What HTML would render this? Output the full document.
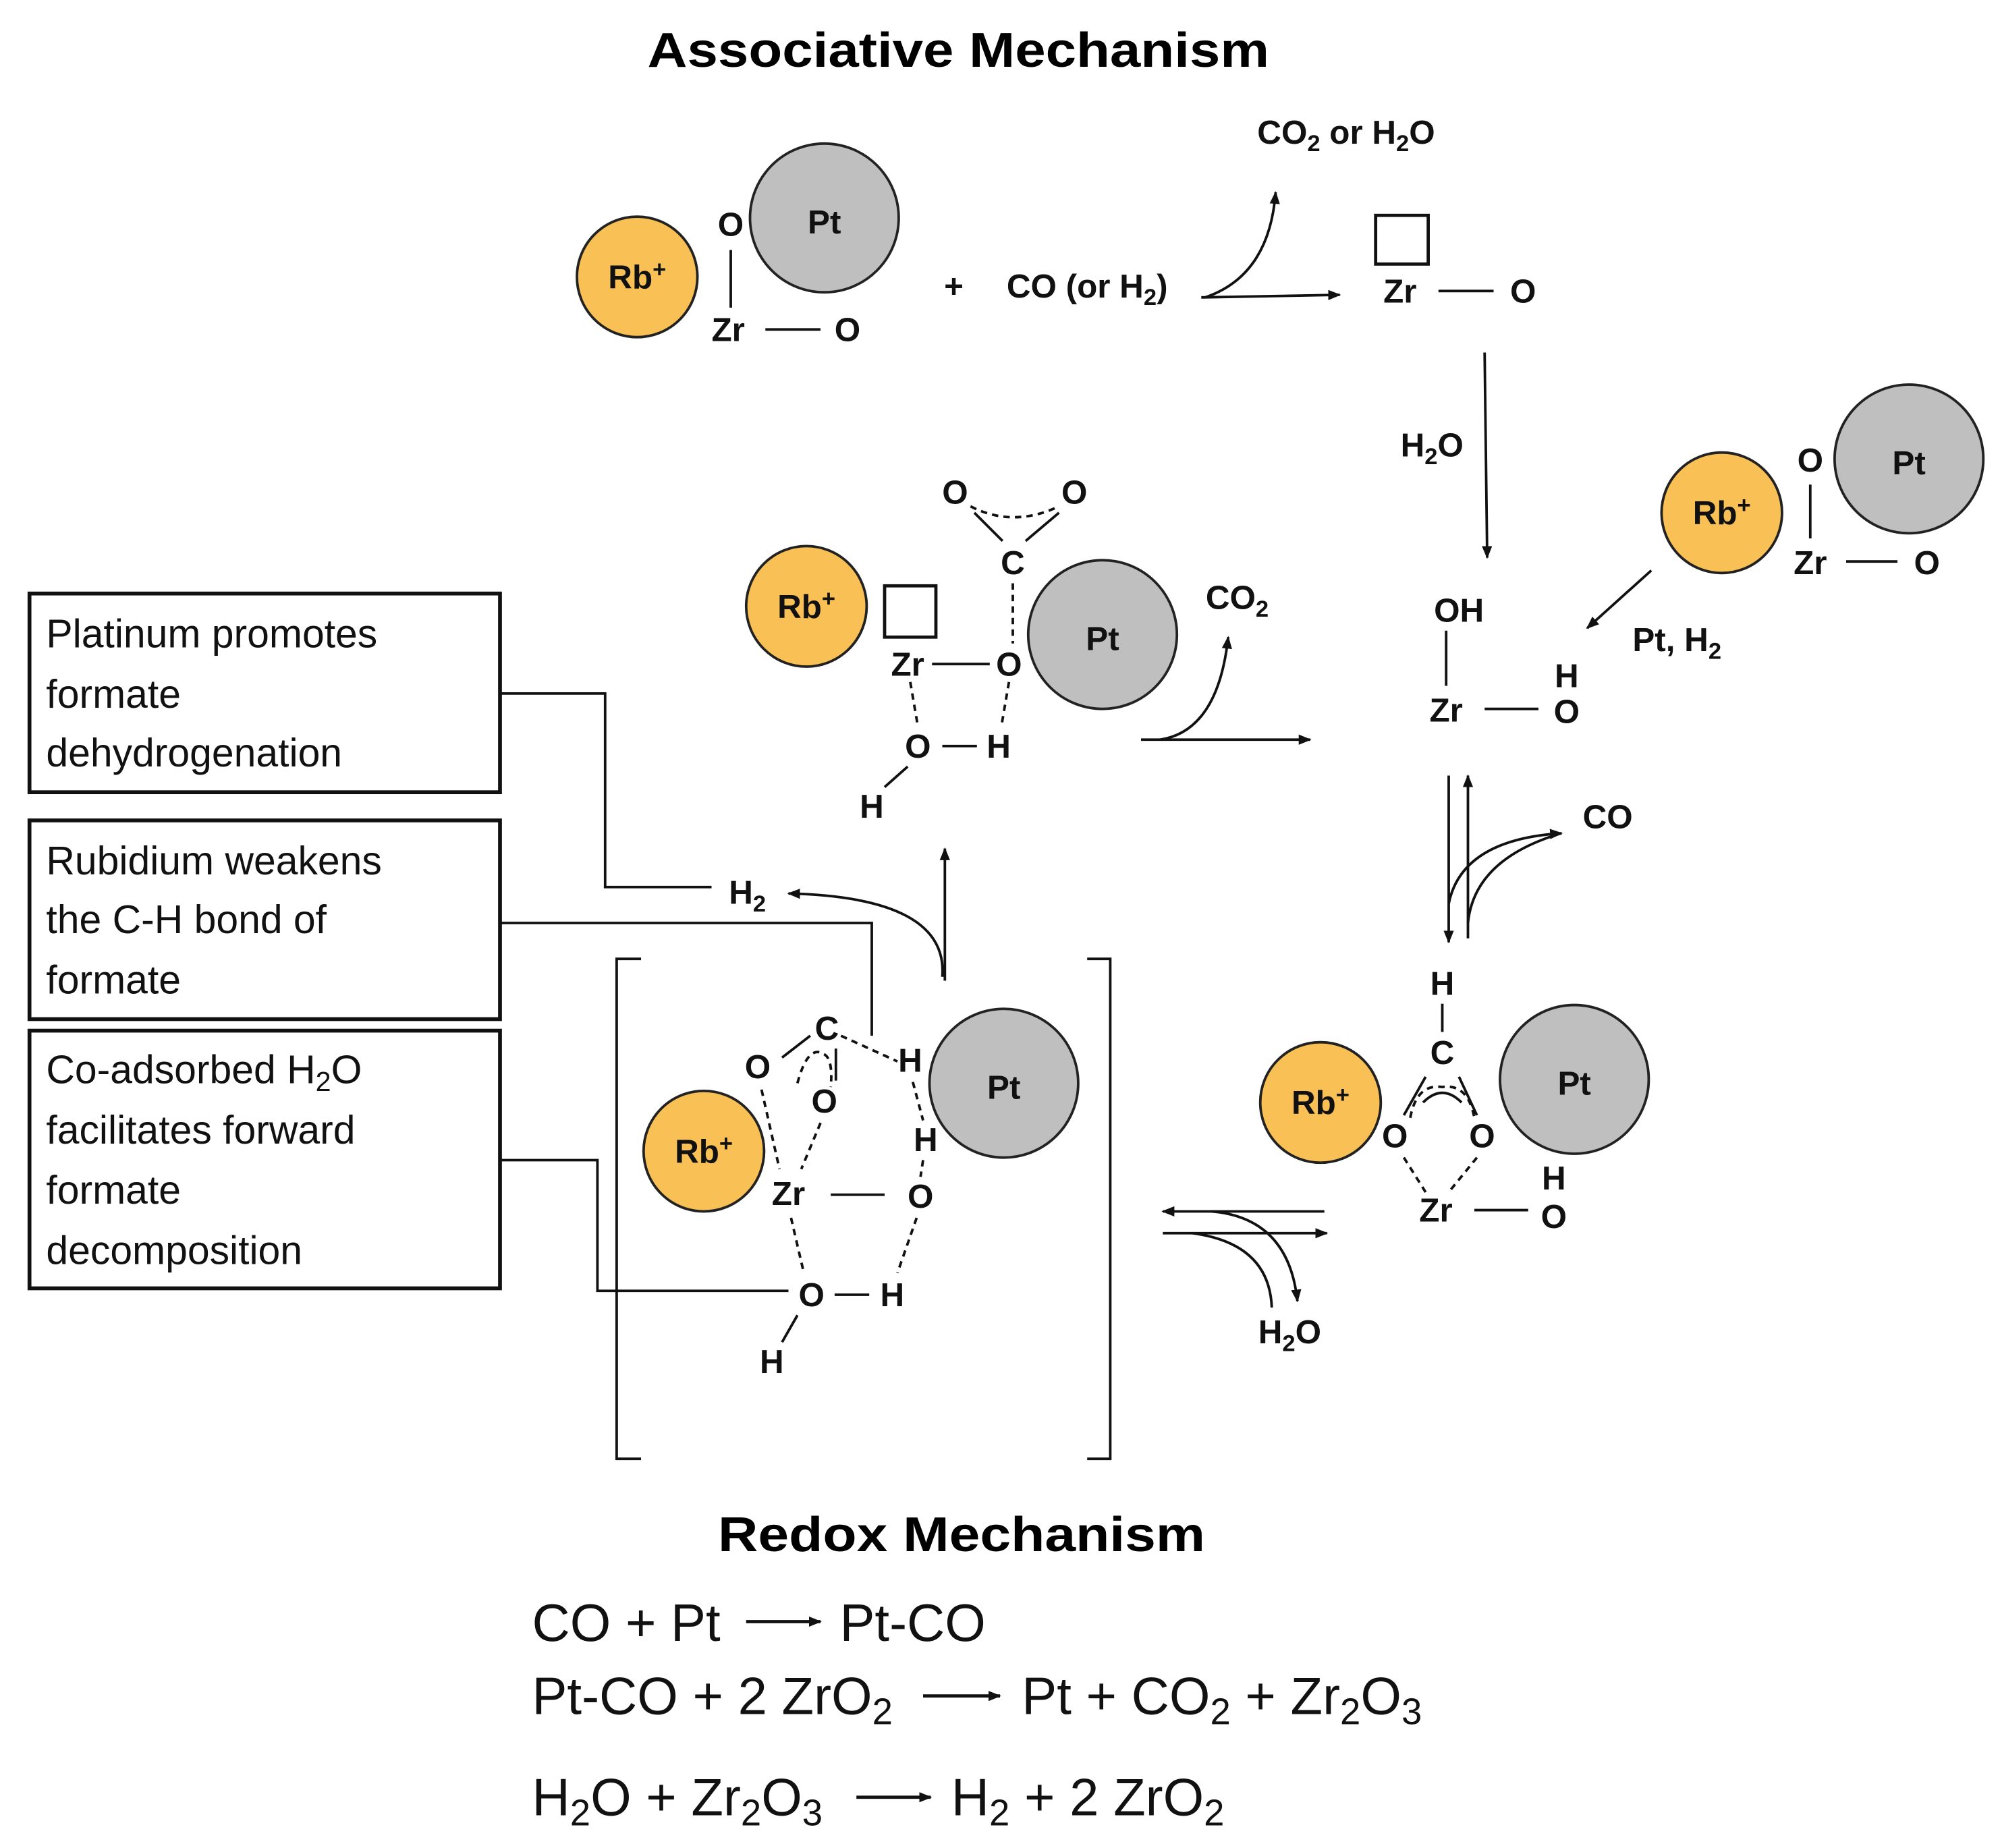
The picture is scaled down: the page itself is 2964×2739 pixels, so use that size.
<!DOCTYPE html>
<html><head><meta charset="utf-8"><style>
html,body{margin:0;padding:0;background:#fff}
svg{display:block}
.b{font-family:"Liberation Sans",sans-serif;font-weight:bold;font-size:26px;fill:#111}
.t{font-family:"Liberation Sans",sans-serif;font-weight:bold;font-size:38px;fill:#000}
.r{font-family:"Liberation Sans",sans-serif;font-size:31px;fill:#111}
.e{font-family:"Liberation Sans",sans-serif;font-size:41px;fill:#111}
.sub{font-size:70%}
</style></head><body>
<svg width="2964" height="2739" viewBox="0 0 1560 1441.6" preserveAspectRatio="none" xmlns="http://www.w3.org/2000/svg">
<defs><marker id="a" markerWidth="10" markerHeight="8" refX="9" refY="4" orient="auto" markerUnits="userSpaceOnUse"><path d="M0,0 L10,4 L0,8 z" fill="#111"/></marker></defs>
<text class="t" x="505" y="52" textLength="485" lengthAdjust="spacingAndGlyphs">Associative Mechanism</text>

<g stroke="#222" stroke-width="2">
<circle cx="497" cy="216" r="47" fill="#F8C055"/>
<circle cx="643" cy="170" r="58" fill="#BFBFBF"/>
<circle cx="1343" cy="400" r="47" fill="#F8C055"/>
<circle cx="1489" cy="358" r="58" fill="#BFBFBF"/>
<circle cx="629" cy="473" r="47" fill="#F8C055"/>
<circle cx="860" cy="495" r="58" fill="#BFBFBF"/>
<circle cx="1030" cy="860" r="47" fill="#F8C055"/>
<circle cx="1228" cy="842" r="58" fill="#BFBFBF"/>
<circle cx="549" cy="898" r="47" fill="#F8C055"/>
<circle cx="783" cy="845" r="58" fill="#BFBFBF"/>
</g>
<g class="b" text-anchor="middle">
<text x="497" y="225">Rb<tspan class="sub" dy="-9">+</tspan></text>
<text x="643" y="182">Pt</text>
<text x="570" y="184">O</text>
<text x="568" y="266">Zr</text>
<text x="661" y="266">O</text>
<text x="744" y="232">+</text>
<text x="848" y="232">CO (or H<tspan class="sub" dy="6">2</tspan><tspan dy="-6">)</tspan></text>
<text x="1050" y="112">CO<tspan class="sub" dy="6">2</tspan><tspan dy="-6"> or H</tspan><tspan class="sub" dy="6">2</tspan><tspan dy="-6">O</tspan></text>
<text x="1092" y="236">Zr</text>
<text x="1188" y="236">O</text>
<text x="1117" y="356">H<tspan class="sub" dy="6">2</tspan><tspan dy="-6">O</tspan></text>
<text x="1343" y="409">Rb<tspan class="sub" dy="-9">+</tspan></text>
<text x="1489" y="370">Pt</text>
<text x="1412" y="368">O</text>
<text x="1412" y="448">Zr</text>
<text x="1503" y="448">O</text>
<text x="1308" y="508">Pt, H<tspan class="sub" dy="6">2</tspan></text>
<text x="1138" y="485">OH</text>
<text x="1128" y="563">Zr</text>
<text x="1222" y="536">H</text>
<text x="1222" y="564">O</text>
<text x="1254" y="646">CO</text>
<text x="1125" y="776">H</text>
<text x="1125" y="830">C</text>
<text x="1030" y="869">Rb<tspan class="sub" dy="-9">+</tspan></text>
<text x="1228" y="854">Pt</text>
<text x="1088" y="895">O</text>
<text x="1156" y="895">O</text>
<text x="1120" y="953">Zr</text>
<text x="1212" y="928">H</text>
<text x="1212" y="958">O</text>
<text x="1006" y="1048">H<tspan class="sub" dy="6">2</tspan><tspan dy="-6">O</tspan></text>
<text x="745" y="393">O</text>
<text x="838" y="393">O</text>
<text x="790" y="448">C</text>
<text x="629" y="482">Rb<tspan class="sub" dy="-9">+</tspan></text>
<text x="860" y="507">Pt</text>
<text x="708" y="527">Zr</text>
<text x="787" y="527">O</text>
<text x="716" y="591">O</text>
<text x="779" y="591">H</text>
<text x="680" y="638">H</text>
<text x="965" y="475">CO<tspan class="sub" dy="6">2</tspan></text>
<text x="583" y="705">H<tspan class="sub" dy="6">2</tspan></text>
<text x="645" y="811">C</text>
<text x="591" y="841">O</text>
<text x="643" y="868">O</text>
<text x="549" y="907">Rb<tspan class="sub" dy="-9">+</tspan></text>
<text x="783" y="857">Pt</text>
<text x="710" y="836">H</text>
<text x="722" y="898">H</text>
<text x="615" y="940">Zr</text>
<text x="718" y="942">O</text>
<text x="633" y="1019">O</text>
<text x="696" y="1019">H</text>
<text x="602" y="1071">H</text>
</g>

<g stroke="#111" stroke-width="2" fill="none">
<line x1="570" y1="195" x2="570" y2="240"/>
<line x1="597" y1="257" x2="640" y2="257"/>
<line x1="937" y1="232" x2="1045" y2="230" marker-end="url(#a)"/>
<path d="M940,232 Q990,215 995,150" marker-end="url(#a)"/>
<rect x="1073" y="168" width="41" height="38" stroke-width="2.5"/>
<line x1="1122" y1="227" x2="1165" y2="227"/>
<line x1="1158" y1="275" x2="1160" y2="435" marker-end="url(#a)"/>
<line x1="1412" y1="378" x2="1412" y2="420"/>
<line x1="1440" y1="438" x2="1480" y2="438"/>
<line x1="1288" y1="445" x2="1238" y2="490" marker-end="url(#a)"/>
<line x1="1128" y1="492" x2="1128" y2="535"/>
<line x1="1158" y1="553" x2="1200" y2="553"/>
<line x1="1130" y1="605" x2="1130" y2="735" marker-end="url(#a)"/>
<line x1="1145" y1="732" x2="1145" y2="605" marker-end="url(#a)"/>
<path d="M1130,705 Q1140,655 1218,650" marker-end="url(#a)"/>
<path d="M1145,720 Q1150,670 1218,650"/>
<line x1="1125" y1="783" x2="1125" y2="805"/>
<line x1="1112" y1="840" x2="1095" y2="870"/>
<line x1="1138" y1="840" x2="1152" y2="870"/>
<path d="M1100,872 Q1105,845 1125,848 Q1145,845 1150,872" stroke-dasharray="5,4"/>
<path d="M1110,860 Q1125,845 1140,860"/>
<line x1="1095" y1="903" x2="1112" y2="930" stroke-dasharray="5,4"/>
<line x1="1152" y1="903" x2="1130" y2="930" stroke-dasharray="5,4"/>
<line x1="1150" y1="944" x2="1192" y2="944"/>
<line x1="1033" y1="945" x2="907" y2="945" marker-end="url(#a)"/>
<line x1="907" y1="962" x2="1035" y2="962" marker-end="url(#a)"/>
<path d="M945,945 Q1005,950 1012,1015" marker-end="url(#a)"/>
<path d="M930,962 Q990,970 992,1020"/>
<path d="M757,395 Q790,412 826,395" stroke-dasharray="5,4"/>
<line x1="760" y1="400" x2="782" y2="422"/>
<line x1="826" y1="400" x2="800" y2="422"/>
<line x1="790" y1="455" x2="790" y2="502" stroke-dasharray="5,4"/>
<rect x="690" y="457" width="40" height="40" stroke-width="2.5"/>
<line x1="727" y1="518" x2="772" y2="518"/>
<line x1="710" y1="532" x2="716" y2="567" stroke-dasharray="5,4"/>
<line x1="787" y1="532" x2="781" y2="567" stroke-dasharray="5,4"/>
<line x1="735" y1="582" x2="762" y2="582"/>
<line x1="708" y1="598" x2="690" y2="614"/>
<line x1="890" y1="577" x2="1022" y2="577" marker-end="url(#a)"/>
<path d="M905,577 Q950,570 958,497" marker-end="url(#a)"/>
<path d="M500,748 H481 V1138 H500"/>
<path d="M848,748 H866 V1138 H848"/>
<line x1="610" y1="825" x2="632" y2="808"/>
<line x1="652" y1="818" x2="652" y2="843"/>
<path d="M622,845 Q630,815 642,822 Q650,825 648,848" stroke-dasharray="5,4"/>
<line x1="656" y1="808" x2="700" y2="828" stroke-dasharray="5,4"/>
<line x1="594" y1="850" x2="608" y2="912" stroke-dasharray="5,4"/>
<line x1="640" y1="876" x2="625" y2="912" stroke-dasharray="5,4"/>
<line x1="712" y1="844" x2="720" y2="874" stroke-dasharray="5,4"/>
<line x1="720" y1="905" x2="718" y2="918" stroke-dasharray="5,4"/>
<line x1="715" y1="950" x2="700" y2="993" stroke-dasharray="5,4"/>
<line x1="617" y1="950" x2="627" y2="993" stroke-dasharray="5,4"/>
<line x1="648" y1="932" x2="690" y2="932"/>
<line x1="651" y1="1010" x2="678" y2="1010"/>
<line x1="622" y1="1026" x2="610" y2="1047"/>
<line x1="737" y1="765" x2="737" y2="662" marker-end="url(#a)"/>
<path d="M735,762 Q740,700 615,697" marker-end="url(#a)"/>
<rect x="23" y="463" width="367" height="155" stroke-width="3"/>
<rect x="23" y="640" width="367" height="155" stroke-width="3"/>
<rect x="23" y="804" width="367" height="201" stroke-width="3"/>
<polyline points="390,541 472,541 472,692 555,692"/>
<polyline points="390,720 680,720 680,808"/>
<polyline points="390,905 466,905 466,1007 615,1007"/>
<line x1="582" y1="1265" x2="640" y2="1265" stroke-width="2.5" marker-end="url(#a)"/>
<line x1="720" y1="1323" x2="780" y2="1323" stroke-width="2.5" marker-end="url(#a)"/>
<line x1="668" y1="1402" x2="726" y2="1402" stroke-width="2.5" marker-end="url(#a)"/>
</g>

<g class="r">
<text x="36" y="505">Platinum promotes</text>
<text x="36" y="552">formate</text>
<text x="36" y="598">dehydrogenation</text>
<text x="36" y="682">Rubidium weakens</text>
<text x="36" y="728">the C-H bond of</text>
<text x="36" y="775">formate</text>
<text x="36" y="845">Co-adsorbed H<tspan class="sub" dy="6">2</tspan><tspan dy="-6">O</tspan></text>
<text x="36" y="892">facilitates forward</text>
<text x="36" y="939">formate</text>
<text x="36" y="986">decomposition</text>
</g>

<text class="t" x="560" y="1210" textLength="380" lengthAdjust="spacingAndGlyphs">Redox Mechanism</text>
<g class="e">
<text x="415" y="1280">CO + Pt</text>
<text x="655" y="1280">Pt-CO</text>
<text x="415" y="1337">Pt-CO + 2 ZrO<tspan class="sub" dy="8">2</tspan></text>
<text x="797" y="1337">Pt + CO<tspan class="sub" dy="8">2</tspan><tspan dy="-8"> + Zr</tspan><tspan class="sub" dy="8">2</tspan><tspan dy="-8">O</tspan><tspan class="sub" dy="8">3</tspan></text>
<text x="415" y="1416">H<tspan class="sub" dy="8">2</tspan><tspan dy="-8">O + Zr</tspan><tspan class="sub" dy="8">2</tspan><tspan dy="-8">O</tspan><tspan class="sub" dy="8">3</tspan></text>
<text x="742" y="1416">H<tspan class="sub" dy="8">2</tspan><tspan dy="-8"> + 2 ZrO</tspan><tspan class="sub" dy="8">2</tspan></text>
</g>
</svg>
</body></html>
